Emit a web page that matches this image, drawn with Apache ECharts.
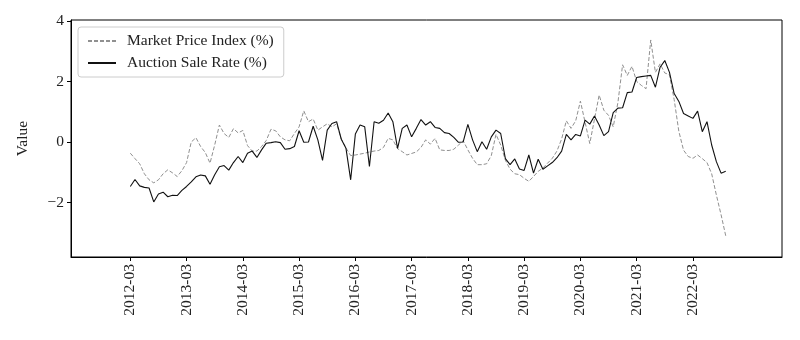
<!DOCTYPE html>
<html>
<head>
<meta charset="utf-8">
<script src="https://cdn.jsdelivr.net/npm/echarts@6/dist/echarts.min.js"></script>
<style>
html,body{margin:0;padding:0;background:#fff;}
#chart{width:800px;height:340px;}
</style>
</head>
<body>
<div id="chart"></div>
<script>
// ---- data ----
const startYear = 2012, startMonth = 3, monthCount = 128;
const months = [];
for (let k = 0; k < monthCount; k++) {
  const m = startMonth - 1 + k;
  const y = startYear + Math.floor(m / 12);
  const mm = (m % 12) + 1;
  months.push(y + '-' + (mm < 10 ? '0' + mm : '' + mm));
}
const tickLabels = ['2012-03','2013-03','2014-03','2015-03','2016-03','2017-03','2018-03','2019-03','2020-03','2021-03','2022-03'];
const yTicks = [-2, 0, 2, 4];

const marketPriceIndex = [
  -0.37,-0.55,-0.72,-1.05,-1.25,-1.35,-1.25,-1.05,-0.92,-1.02,-1.14,-0.95,
  -0.68, 0.00, 0.14,-0.15,-0.35,-0.70,-0.10, 0.56, 0.28, 0.15, 0.44, 0.30,
   0.38,-0.12,-0.30,-0.30,-0.15, 0.05, 0.42, 0.37, 0.17, 0.07, 0.04, 0.28,
   0.50, 1.03, 0.67, 0.76, 0.39, 0.50, 0.60, 0.50, 0.60, 0.10,-0.20,-0.45,
  -0.43,-0.40,-0.37,-0.33,-0.30,-0.28,-0.18, 0.12, 0.07,-0.22,-0.32,-0.43,
  -0.38,-0.33,-0.18, 0.07,-0.07, 0.12,-0.26,-0.28,-0.28,-0.24,-0.10, 0.04,
  -0.26,-0.54,-0.75,-0.75,-0.72,-0.45, 0.25,-0.10,-0.60,-0.90,-1.05,-1.08,
  -1.20,-1.30,-1.14,-0.97,-0.86,-0.70,-0.54,-0.30, 0.10, 0.70, 0.45, 0.70,
   1.35, 0.65,-0.05, 0.75, 1.55, 1.05, 0.88, 0.50, 1.30, 2.55, 2.20, 2.50,
   2.00, 1.87, 1.76, 3.37, 2.30, 2.58, 2.28, 2.22, 1.40, 0.35,-0.27,-0.48,
  -0.54,-0.43,-0.55,-0.68,-1.05,-1.75,-2.40,-3.10
];
const auctionSaleRate = [
  -1.47,-1.24,-1.45,-1.50,-1.52,-1.98,-1.72,-1.66,-1.81,-1.76,-1.77,-1.60,
  -1.47,-1.32,-1.15,-1.09,-1.12,-1.40,-1.08,-0.82,-0.78,-0.93,-0.68,-0.48,
  -0.68,-0.37,-0.30,-0.51,-0.26,-0.04,-0.02, 0.01,-0.02,-0.24,-0.22,-0.15,
   0.37,-0.01, 0.00, 0.52, 0.07,-0.61, 0.39, 0.61, 0.67, 0.09,-0.21,-1.25,
   0.26, 0.56, 0.50,-0.81, 0.67, 0.62, 0.72, 0.96, 0.67,-0.21, 0.45, 0.56,
   0.17, 0.45, 0.74, 0.56, 0.67, 0.48, 0.45, 0.31, 0.28, 0.15,-0.01, 0.00,
   0.58, 0.07,-0.32, 0.01,-0.24, 0.17, 0.39, 0.28,-0.55,-0.75,-0.56,-0.89,
  -0.94,-0.43,-1.03,-0.57,-0.90,-0.79,-0.68,-0.52,-0.30, 0.25, 0.07, 0.25,
   0.20, 0.72, 0.59, 0.86, 0.56, 0.21, 0.34, 0.97, 1.12, 1.13, 1.63, 1.65,
   2.13, 2.16, 2.18, 2.20, 1.81, 2.47, 2.69, 2.30, 1.60, 1.34, 0.94, 0.86,
   0.78, 1.02, 0.34, 0.67,-0.10,-0.65,-1.03,-0.97
];
const seriesNames = ['Market Price Index (%)', 'Auction Sale Rate (%)'];

// ---- chart ----
const FONT = '"Liberation Serif", "DejaVu Serif", serif';
const FS = 15.5;
const tickIdx = tickLabels.map(l => months.indexOf(l));
const toPairs = arr => arr.map((v, i) => [i, v]);

const chart = echarts.init(document.getElementById('chart'), null, {renderer: 'canvas'});
chart.setOption({
  animation: false,
  backgroundColor: '#fff',
  grid: {left: 71, right: 18, top: 20, bottom: 83, show: true, borderColor: '#000', borderWidth: 1, backgroundColor: 'transparent'},
  legend: {
    orient: 'vertical', left: 78, top: 27,
    itemWidth: 28, itemHeight: 12, itemGap: 6,
    padding: [6, 10, 6, 9],
    borderColor: '#cccccc', borderWidth: 1, borderRadius: 3, backgroundColor: '#fff',
    itemStyle: {color: 'transparent', borderWidth: 0, opacity: 0},
    textStyle: {fontFamily: FONT, fontSize: FS, color: '#222', padding: [0, 0, 0, 6]},
    data: seriesNames
  },
  xAxis: {
    type: 'value', min: -12.65, max: 139,
    axisLine: {show: true, onZero: false, lineStyle: {color: '#000', width: 1}},
    axisTick: {show: true, inside: false, length: 4, customValues: tickIdx, lineStyle: {color: '#000'}},
    axisLabel: {
      customValues: tickIdx, rotate: 90, margin: 7,
      fontFamily: FONT, fontSize: FS, color: '#222',
      formatter: v => months[Math.round(v)]
    },
    splitLine: {show: false}
  },
  yAxis: {
    type: 'value', min: -3.8, max: 4.03,
    name: 'Value', nameLocation: 'middle', nameGap: 40,
    nameTextStyle: {fontFamily: FONT, fontSize: FS, color: '#222'},
    axisLine: {show: true, onZero: false, lineStyle: {color: '#000', width: 1}},
    axisTick: {show: true, length: 4, customValues: yTicks, lineStyle: {color: '#000'}},
    axisLabel: {
      customValues: yTicks, margin: 7,
      fontFamily: FONT, fontSize: FS, color: '#222',
      formatter: v => String(v).replace('-', '\u2212')
    },
    splitLine: {show: false}
  },
  series: [
    {
      name: seriesNames[0], type: 'line', data: toPairs(marketPriceIndex),
      symbol: 'none', showSymbol: false,
      lineStyle: {color: '#909090', width: 1, type: [4, 2]},
      itemStyle: {color: '#909090'}, z: 2
    },
    {
      name: seriesNames[1], type: 'line', data: toPairs(auctionSaleRate),
      symbol: 'none', showSymbol: false,
      lineStyle: {color: '#111', width: 1.1},
      itemStyle: {color: '#111'}, z: 3
    }
  ]
});
</script>
</body>
</html>
